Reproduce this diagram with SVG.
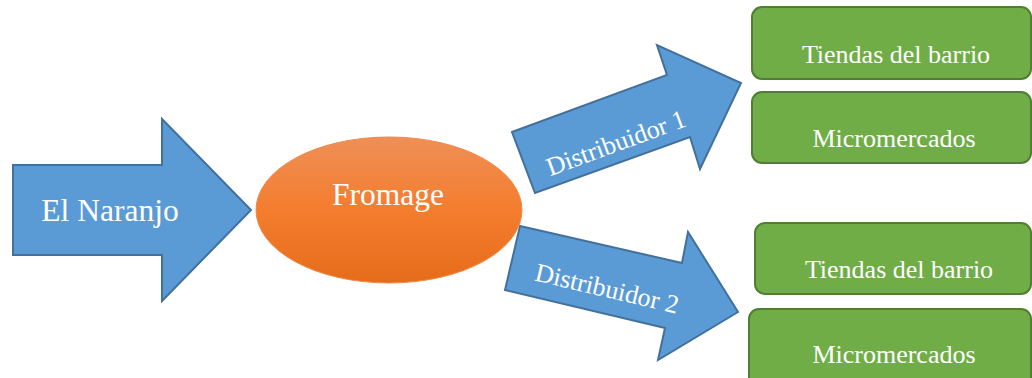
<svg xmlns="http://www.w3.org/2000/svg" width="1032" height="378" viewBox="0 0 1032 378">
<defs>
<linearGradient id="og" x1="0" y1="0" x2="0" y2="1">
<stop offset="0" stop-color="#EF8F57"/>
<stop offset="0.5" stop-color="#F47D2E"/>
<stop offset="1" stop-color="#E56C1A"/>
</linearGradient>
</defs>
<style>
.arrow{fill:#5B9BD5;stroke:#41719C;stroke-width:2;stroke-linejoin:miter}
.box{fill:#70AD47;stroke:#507E32;stroke-width:2}
.t{font-family:"Liberation Serif","Times New Roman",serif;fill:#FFFFFF;text-anchor:middle}
</style>
<rect width="1032" height="378" fill="#FFFFFF"/>
<g id="connectors">
<g id="arrow-naranjo">
<polygon class="arrow" points="13,165 162,165 162,119 251,210 162,301 162,255 13,255"/>
<text class="t" x="110" y="221" font-size="31.5">El Naranjo</text>
</g>
<g id="arrow-d1">
<polygon class="arrow" points="512,132 667,75 657,45 741,83 700,169 690,137 535,193"/>
<text class="t" x="0" y="0" font-size="26" transform="translate(619,151) rotate(-20.2)">Distribuidor 1</text>
</g>
<g id="arrow-d2">
<polygon class="arrow" points="520,226 682,263 688,232 738,312 658,360 665,328 505,290"/>
<text class="t" x="0" y="0" font-size="26" transform="translate(605,297) rotate(13.2)">Distribuidor 2</text>
</g>
</g>
<g id="fromage">
<ellipse cx="389" cy="210" rx="133" ry="73" fill="url(#og)" stroke="#F08A4B" stroke-width="1"/>
<text class="t" x="388" y="205" font-size="31.5">Fromage</text>
</g>
<g id="tiendas1">
<rect class="box" x="752" y="7" width="279" height="72" rx="10"/>
<text class="t" x="896" y="63" font-size="26">Tiendas del barrio</text>
</g>
<g id="micro1">
<rect class="box" x="752" y="92" width="279" height="71" rx="10"/>
<text class="t" x="894" y="147" font-size="26">Micromercados</text>
</g>
<g id="tiendas2">
<rect class="box" x="755" y="223" width="276" height="71" rx="10"/>
<text class="t" x="899" y="278" font-size="26">Tiendas del barrio</text>
</g>
<g id="micro2">
<rect class="box" x="749" y="309" width="282" height="80" rx="10"/>
<text class="t" x="894" y="363" font-size="26">Micromercados</text>
</g>
</svg>
